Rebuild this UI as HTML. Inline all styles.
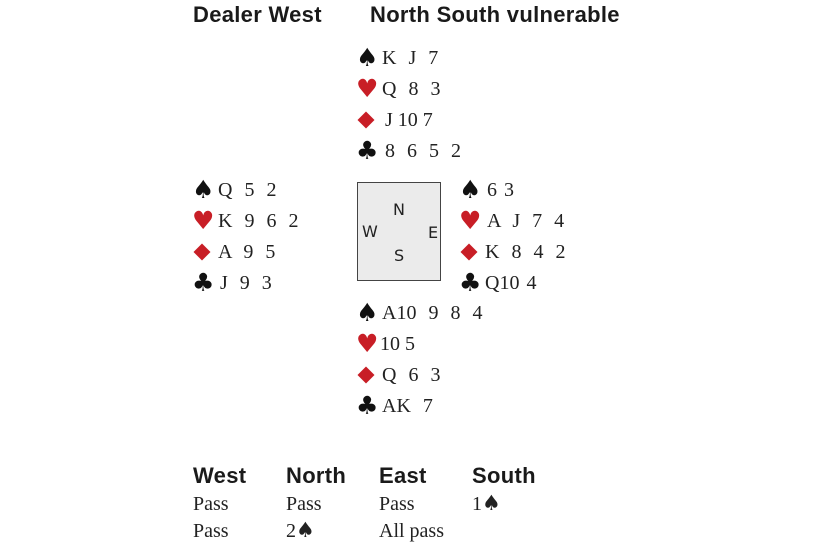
<!DOCTYPE html>
<html><head><style>
body{margin:0;width:820px;height:550px;background:#fff;position:relative;overflow:hidden}
.h{position:absolute;font-family:"Liberation Sans",sans-serif;font-weight:bold;font-size:22px;color:#1a1a1a;line-height:24px;letter-spacing:0.3px}
.r{position:absolute;font-family:"Liberation Serif",serif;font-size:20px;color:#222;line-height:24px;white-space:pre;word-spacing:7px}
.s{position:absolute;font-family:"DejaVu Sans",sans-serif;font-size:25px;line-height:24px;color:#111}
.d{position:absolute;width:12px;height:12px;background:#c81e26;transform:rotate(45deg)}
.red{color:#c81e26}
.box{position:absolute;left:357px;top:182px;width:82px;height:97px;border:1.5px solid #444;background:#ebebeb}
.c{position:absolute;font-family:"DejaVu Sans",sans-serif;font-size:16px;color:#222;line-height:18px}
</style></head><body>
<div class="h" style="left:193px;top:3px">Dealer West</div>
<div class="h" style="left:370px;top:3px">North South vulnerable</div>

<div class="s" style="left:356px;top:46px">♠</div><div class="r" style="left:382px;top:46px">K J 7</div>
<div class="s red" style="left:356px;top:77px">♥</div><div class="r" style="left:382px;top:77px">Q 8 3</div>
<div class="d" style="left:360px;top:114px"></div><div class="r" style="left:385px;top:108px;word-spacing:0">J 10 7</div>
<div class="s" style="left:356px;top:139px">♣</div><div class="r" style="left:385px;top:139px">8 6 5 2</div>

<div class="s" style="left:192px;top:178px">♠</div><div class="r" style="left:218px;top:178px">Q 5 2</div>
<div class="s red" style="left:192px;top:209px">♥</div><div class="r" style="left:218px;top:209px">K 9 6 2</div>
<div class="d" style="left:196px;top:246px"></div><div class="r" style="left:218px;top:240px">A 9 5</div>
<div class="s" style="left:192px;top:271px">♣</div><div class="r" style="left:220px;top:271px">J 9 3</div>

<div class="box"></div>
<div class="c" style="left:393px;top:201px">N</div>
<div class="c" style="left:362px;top:223px">W</div>
<div class="c" style="left:428px;top:224px">E</div>
<div class="c" style="left:394px;top:247px">S</div>

<div class="s" style="left:459px;top:178px">♠</div><div class="r" style="left:487px;top:178px;word-spacing:2px">6 3</div>
<div class="s red" style="left:459px;top:209px">♥</div><div class="r" style="left:487px;top:209px">A J 7 4</div>
<div class="d" style="left:463px;top:246px"></div><div class="r" style="left:485px;top:240px">K 8 4 2</div>
<div class="s" style="left:459px;top:271px">♣</div><div class="r" style="left:485px;top:271px;word-spacing:2px">Q10 4</div>

<div class="s" style="left:356px;top:301px">♠</div><div class="r" style="left:382px;top:301px">A10 9 8 4</div>
<div class="s red" style="left:356px;top:332px">♥</div><div class="r" style="left:380px;top:332px;word-spacing:0">10 5</div>
<div class="d" style="left:360px;top:369px"></div><div class="r" style="left:382px;top:363px">Q 6 3</div>
<div class="s" style="left:356px;top:394px">♣</div><div class="r" style="left:382px;top:394px">AK 7</div>

<div class="h" style="left:193px;top:464px">West</div>
<div class="h" style="left:286px;top:464px">North</div>
<div class="h" style="left:379px;top:464px">East</div>
<div class="h" style="left:472px;top:464px">South</div>
<div class="r" style="left:193px;top:492px;word-spacing:0">Pass</div>
<div class="r" style="left:286px;top:492px;word-spacing:0">Pass</div>
<div class="r" style="left:379px;top:492px;word-spacing:0">Pass</div>
<div class="r" style="left:472px;top:492px;word-spacing:0">1<span style="font-family:'DejaVu Sans';font-size:21px;line-height:20px">♠</span></div>
<div class="r" style="left:193px;top:519px;word-spacing:0">Pass</div>
<div class="r" style="left:286px;top:519px;word-spacing:0">2<span style="font-family:'DejaVu Sans';font-size:21px;line-height:20px">♠</span></div>
<div class="r" style="left:379px;top:519px;word-spacing:0">All pass</div>
</body></html>
